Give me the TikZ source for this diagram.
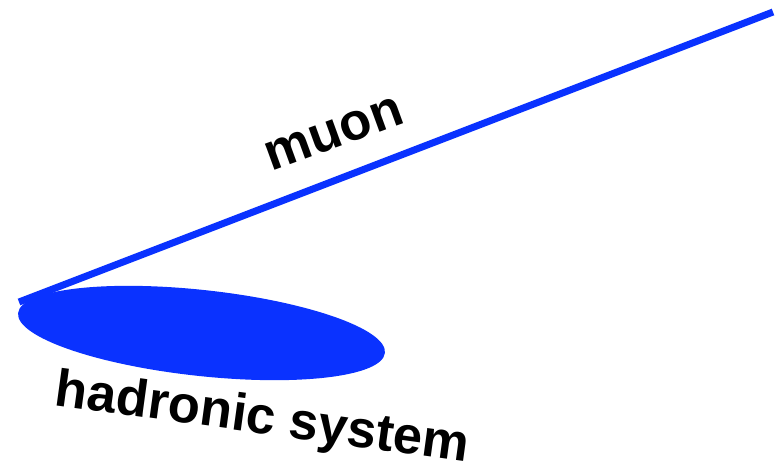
\documentclass[tikz,border=0pt]{standalone}
\usepackage{fontspec}
\setmainfont{Liberation Sans}
\usetikzlibrary{shapes.geometric}
\definecolor{trackblue}{RGB}{10,50,255}
\tikzset{
  lbl/.style={font=\fontsize{52.5}{52.5}\selectfont\bfseries, anchor=base, inner sep=0pt},
  track/.style={draw=trackblue, line width=7pt},
  blob/.style={ellipse, fill=trackblue, inner sep=0pt}
}
\begin{document}
\begin{tikzpicture}[x=1pt,y=-1pt]
\useasboundingbox (0,0) rectangle (776,466);
\node[blob, minimum width=369pt, minimum height=86pt, rotate=-6.2] (had) at (201.5,333) {};
\coordinate (vtx) at (19,302);
\coordinate (muend) at (773,12);
\draw[track] (vtx) -- (muend);
\node[lbl, rotate=20] (mulbl) at (339,147) {muon};
\node[lbl, rotate=-7.8] (hadlbl) at (260.5,433.5) {hadronic system};
\end{tikzpicture}
\end{document}
